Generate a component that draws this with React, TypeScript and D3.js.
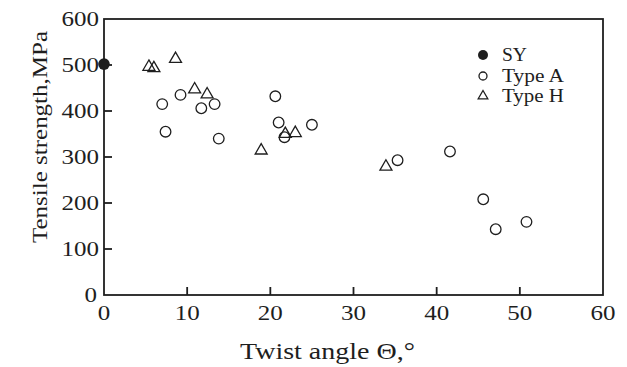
import React, { useRef, useEffect } from "react";
import * as d3 from "d3";

// values
const syX = [0];
const syY = [502];

const typeAX = [7.0, 7.4, 9.2, 11.7, 13.3, 13.8, 20.6, 21.0, 21.7, 25.0, 35.3, 41.6, 45.6, 47.1, 50.8];
const typeAY = [415, 355, 435, 406, 415, 340, 432, 375, 343, 370, 293, 312, 208, 143, 159];

const typeHX = [5.4, 6.0, 8.6, 10.9, 12.4, 18.9, 21.8, 23.0, 33.9];
const typeHY = [496, 493, 513, 447, 436, 314, 350, 352, 279];

const xTicks = [0, 10, 20, 30, 40, 50, 60];
const yTicks = [0, 100, 200, 300, 400, 500, 600];

const legendLabels = ["SY", "Type A", "Type H"];

const ink = "#1e1e1e";
const font = "'Liberation Serif', 'Times New Roman', serif";

const App: React.FC = () => {
  const svgRef = useRef<SVGSVGElement>(null);

  useEffect(() => {
    if (!svgRef.current) return;
    const svg = d3.select(svgRef.current);
    svg.selectAll("*").remove();

    const left = 104;
    const right = 603;
    const top = 19;
    const bottom = 295;

    const x = d3.scaleLinear().domain([0, 60]).range([left, right]);
    const y = d3.scaleLinear().domain([0, 600]).range([bottom, top]);

    // frame
    svg
      .append("rect")
      .attr("x", left)
      .attr("y", top)
      .attr("width", right - left)
      .attr("height", bottom - top)
      .attr("fill", "none")
      .attr("stroke", ink)
      .attr("stroke-width", 1.8);

    // inward ticks, left and bottom
    svg
      .selectAll(".ytick")
      .data(yTicks.filter((t) => t > 0 && t < 600))
      .enter()
      .append("line")
      .attr("x1", left)
      .attr("x2", left + 8)
      .attr("y1", (d) => y(d))
      .attr("y2", (d) => y(d))
      .attr("stroke", ink)
      .attr("stroke-width", 1.8);

    svg
      .selectAll(".xtick")
      .data(xTicks.filter((t) => t > 0 && t < 60))
      .enter()
      .append("line")
      .attr("x1", (d) => x(d))
      .attr("x2", (d) => x(d))
      .attr("y1", bottom)
      .attr("y2", bottom - 8)
      .attr("stroke", ink)
      .attr("stroke-width", 1.8);

    // tick labels
    svg
      .selectAll(".ylab")
      .data(yTicks)
      .enter()
      .append("text")
      .attr("x", (d) => (d === 0 ? left - 7 : left - 5))
      .attr("y", (d) => y(d) + 7)
      .attr("text-anchor", "end")
      .attr("font-family", font)
      .attr("font-size", 21)
      .attr("fill", ink)
      .attr("textLength", (d) => String(d).length * 12.5)
      .attr("lengthAdjust", "spacingAndGlyphs")
      .text((d) => d);

    svg
      .selectAll(".xlab")
      .data(xTicks)
      .enter()
      .append("text")
      .attr("x", (d) => x(d))
      .attr("y", bottom + 25)
      .attr("text-anchor", "middle")
      .attr("font-family", font)
      .attr("font-size", 21)
      .attr("fill", ink)
      .attr("textLength", (d) => String(d).length * 12.5)
      .attr("lengthAdjust", "spacingAndGlyphs")
      .text((d) => d);

    // axis titles
    svg
      .append("text")
      .attr("x", 240)
      .attr("y", 359)
      .attr("font-family", font)
      .attr("font-size", 23)
      .attr("fill", ink)
      .attr("textLength", 175)
      .attr("lengthAdjust", "spacingAndGlyphs")
      .text("Twist angle \u0398,\u00b0");

    svg
      .append("text")
      .attr("transform", "translate(47,243) rotate(-90)")
      .attr("font-family", font)
      .attr("font-size", 21)
      .attr("fill", ink)
      .attr("textLength", 212)
      .attr("lengthAdjust", "spacingAndGlyphs")
      .text("Tensile strength,MPa");

    // Type A circles
    svg
      .selectAll(".typeA")
      .data(d3.range(typeAX.length))
      .enter()
      .append("circle")
      .attr("cx", (i) => x(typeAX[i]))
      .attr("cy", (i) => y(typeAY[i]))
      .attr("r", 5.3)
      .attr("fill", "none")
      .attr("stroke", ink)
      .attr("stroke-width", 1.3);

    // Type H triangles
    const tri = d3.symbol().type(d3.symbolTriangle).size(62);
    svg
      .selectAll(".typeH")
      .data(d3.range(typeHX.length))
      .enter()
      .append("path")
      .attr("d", tri)
      .attr("transform", (i) => `translate(${x(typeHX[i])},${y(typeHY[i])})`)
      .attr("fill", "none")
      .attr("stroke", ink)
      .attr("stroke-width", 1.3);

    // SY filled
    svg
      .selectAll(".sy")
      .data(d3.range(syX.length))
      .enter()
      .append("circle")
      .attr("cx", (i) => x(syX[i]))
      .attr("cy", (i) => y(syY[i]))
      .attr("r", 5.8)
      .attr("fill", ink);

    // legend
    const lx = 483;
    const ly = [55, 76, 96];
    const lg = svg.append("g");
    lg.append("circle").attr("cx", lx).attr("cy", ly[0]).attr("r", 5).attr("fill", ink);
    lg.append("circle")
      .attr("cx", lx)
      .attr("cy", ly[1])
      .attr("r", 4)
      .attr("fill", "none")
      .attr("stroke", ink)
      .attr("stroke-width", 1.3);
    lg.append("path")
      .attr("d", d3.symbol().type(d3.symbolTriangle).size(40))
      .attr("transform", `translate(${lx},${ly[2]})`)
      .attr("fill", "none")
      .attr("stroke", ink)
      .attr("stroke-width", 1.3);

    lg.selectAll(".ltext")
      .data(legendLabels)
      .enter()
      .append("text")
      .attr("x", 502)
      .attr("y", (d, i) => ly[i] + 6)
      .attr("font-family", font)
      .attr("font-size", 18)
      .attr("fill", ink)
      .attr("textLength", (d) => (d === "SY" ? 25 : d === "Type A" ? 62 : 62))
      .attr("lengthAdjust", "spacingAndGlyphs")
      .text((d) => d);
  }, []);

  return (
    <svg
      ref={svgRef}
      width={627}
      height={367}
      style={{ position: "absolute", left: 0, top: 0, background: "#fff" }}
    ></svg>
  );
};

export default App;
